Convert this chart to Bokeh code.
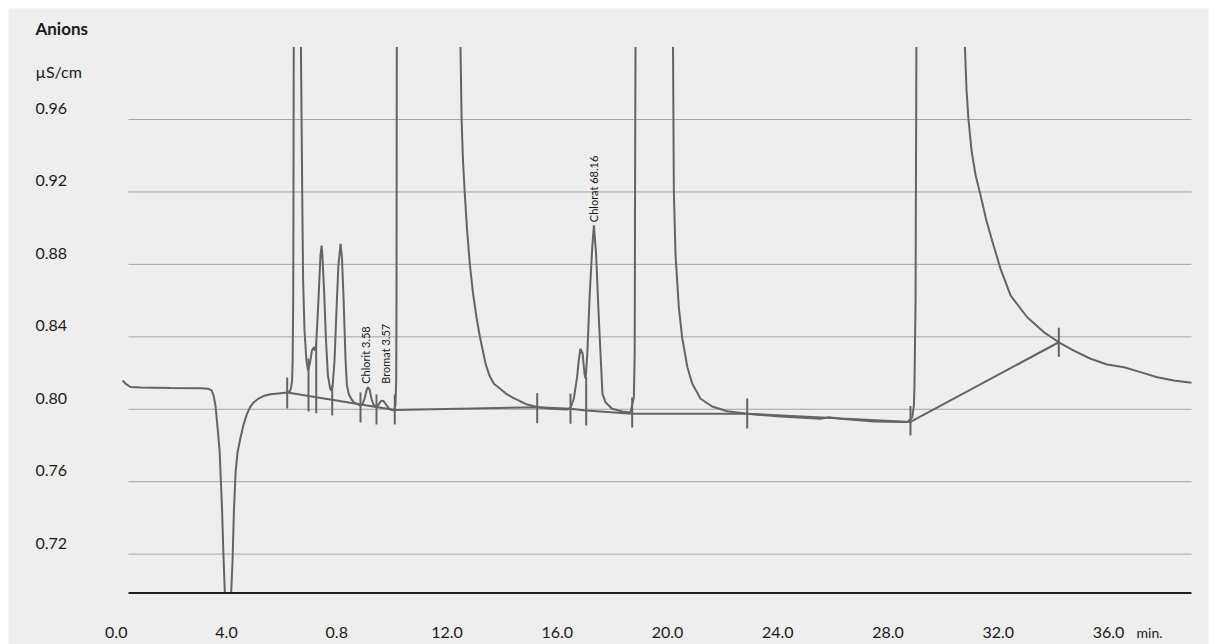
from math import pi
import numpy as np
from bokeh.plotting import figure
from bokeh.models import Label, Range1d
from bokeh.embed import file_html
from bokeh.resources import INLINE

NaN = float("nan")

# ---- chromatogram signal (time in min, conductivity in uS/cm); NaN = off-scale ----
time_min = [
    0.23, 0.37, 0.52, 0.88, 1.97, 3.06, 3.35, 3.46, 3.53, 3.60, 3.67, 3.75, 3.78, 3.84, 3.89, 3.94,
    4.05, 4.17, 4.22, 4.27, 4.33, 4.40, 4.51, 4.62, 4.75, 4.87, 4.98, 5.16, 5.34, 5.60, 5.96, 6.21,
    6.29, 6.34, 6.38, 6.40, 6.42, 6.43, 6.44, 6.58, 6.70, 6.75, 6.78, 6.83, 6.90, 6.96, 7.03, 7.10,
    7.17, 7.21, 7.25, 7.30, 7.36, 7.41, 7.45, 7.48, 7.54, 7.61, 7.68, 7.76, 7.80, 7.85, 7.92, 7.99,
    8.06, 8.14, 8.19, 8.25, 8.32, 8.37, 8.44, 8.54, 8.64, 8.84, 8.93, 9.01, 9.08, 9.13, 9.19, 9.26,
    9.33, 9.44, 9.52, 9.59, 9.65, 9.71, 9.81, 9.91, 10.07, 10.13, 10.157, 10.168, 10.179, 11.30,
    12.49, 12.53, 12.58, 12.64, 12.73, 12.83, 12.94, 13.07, 13.19, 13.40, 13.54, 13.70, 13.94,
    14.16, 14.42, 14.67, 14.91, 15.27, 15.76, 16.36, 16.48, 16.60, 16.72, 16.78, 16.84, 16.92, 16.99,
    17.03, 17.09, 17.18, 17.27, 17.33, 17.41, 17.49, 17.57, 17.64, 17.75, 17.99, 18.36, 18.66, 18.78,
    18.81, 18.83, 18.84, 19.50, 20.20, 20.23, 20.29, 20.41, 20.53, 20.72, 20.90, 21.20, 21.62,
    22.17, 22.89, 24.10, 25.55, 25.85, 26.28, 27.49, 28.70, 28.88, 28.94, 28.96, 29.00, 29.03, 29.90,
    30.79, 30.85, 30.92, 31.03, 31.18, 31.36, 31.57, 31.83, 32.08, 32.45, 33.05, 33.65, 34.20,
    34.74, 35.35, 35.95, 36.56, 37.16, 37.77, 38.37, 39.01,
]
signal_uScm = [
    0.8159, 0.8137, 0.8123, 0.8120, 0.8117, 0.8116, 0.8113, 0.8104, 0.8076, 0.8021, 0.7910, 0.7772, 0.7662, 0.7441, 0.7193, 0.6986,
    NaN, 0.6986, 0.7165, 0.7441, 0.7651, 0.7761, 0.7844, 0.7916, 0.7977, 0.8015, 0.8037, 0.8059, 0.8073, 0.8083, 0.8089, 0.8093,
    0.8098, 0.8115, 0.8159, 0.8269, 0.8601, 0.9153, 1.0000, NaN, 1.0000, 0.9153, 0.8711, 0.8435, 0.8269, 0.8214, 0.8258, 0.8324,
    0.8343, 0.8324, 0.8352, 0.8490, 0.8683, 0.8849, 0.8904, 0.8849, 0.8656, 0.8380, 0.8186, 0.8115, 0.8104, 0.8126, 0.8269, 0.8545,
    0.8794, 0.8914, 0.8833, 0.8601, 0.8269, 0.8131, 0.8082, 0.8054, 0.8037, 0.8021, 0.8026, 0.8059, 0.8104, 0.8122, 0.8109, 0.8059,
    0.8026, 0.8011, 0.8026, 0.8043, 0.8048, 0.8043, 0.8021, 0.8002, 0.7993, 0.8021, 0.8159, 0.8601, 1.0000, NaN,
    1.0000, 0.9598, 0.9374, 0.9204, 0.8987, 0.8799, 0.8645, 0.8508, 0.8403, 0.8251, 0.8186, 0.8141, 0.8112,
    0.8084, 0.8062, 0.8043, 0.8026, 0.8012, 0.8003, 0.7999, 0.8007, 0.8058, 0.8177, 0.8269, 0.8334, 0.8308, 0.8196,
    0.8168, 0.8306, 0.8638, 0.8895, 0.9015, 0.8858, 0.8564, 0.8306, 0.8085, 0.8039, 0.8003, 0.7988, 0.7982, 0.8067,
    0.8308, 0.9594, 1.0000, NaN, 1.0000, 0.9208, 0.8858, 0.8564, 0.8398, 0.8232, 0.8141, 0.8058, 0.8015,
    0.7989, 0.7975, 0.7960, 0.7947, 0.7956, 0.7947, 0.7932, 0.7929, 0.7956, 0.8021, 0.8131, 0.8601, 1.0000, NaN,
    1.0000, 0.9760, 0.9600, 0.9429, 0.9291, 0.9180, 0.9042, 0.8904, 0.8777, 0.8628, 0.8508, 0.8426, 0.8370,
    0.8324, 0.8279, 0.8247, 0.8232, 0.8205, 0.8177, 0.8159, 0.8146,
]

# ---- integration baseline ----
baseline_t = [6.202, 10.106, 15.273, 16.481, 17.050, 18.719, 22.892, 28.816, 34.197]
baseline_v = [0.8093, 0.7996, 0.8011, 0.8003, 0.7993, 0.7975, 0.7975, 0.7930, 0.8370]

# ---- integration marks (peak start / end) ----
mark_t = [6.202, 6.975, 7.254, 7.835, 8.862, 9.442, 10.106, 15.273, 16.481, 17.050, 18.719, 22.892, 28.816, 34.197]
mark_top = [0.8175, 0.8280, 0.8363, 0.8131, 0.8093, 0.8082, 0.8082, 0.8089, 0.8086, 0.8177, 0.8065, 0.8060, 0.8018, 0.8450]
mark_bot = [0.8004, 0.7988, 0.7978, 0.7966, 0.7927, 0.7916, 0.7916, 0.7923, 0.7920, 0.7910, 0.7899, 0.7894, 0.7855, 0.8290]

# ---- peak annotations ----
peak_names = ["Chlorit 3.58", "Bromat 3.57", "Chlorat 68.16"]
peak_label_t = [9.043, 9.769, 17.315]
peak_label_v = [0.8141, 0.8141, 0.9033]

# ---- axes ----
y_grid_values = [0.72, 0.76, 0.80, 0.84, 0.88, 0.92, 0.96]
y_tick_labels = ["0.72", "0.76", "0.80", "0.84", "0.88", "0.92", "0.96"]
x_tick_values = [0, 4, 8, 12, 16, 20, 24, 28, 32, 36]
x_tick_labels = ["0.0", "4.0", "0.8", "12.0", "16.0", "20.0", "24.0", "28.0", "32.0", "36.0"]
x_unit = "min."
y_unit = "µS/cm"
title = "Anions"

# plotting window (frame covers the whole grey panel)
X_START, X_END = -3.909, 39.628
Y_START, Y_END = 0.6701, 1.0213
GRID_START, GRID_END = 0.445, 39.01
AXIS_V = 0.6986
LABEL_X = -2.93
X_LABEL_V = 0.6733

BG = "#eeeeee"
LINE = "#646464"
TEXT = "#1a1a1a"
FONT = "Lato"

p = figure(width=1216, height=644,
           x_range=Range1d(X_START, X_END), y_range=Range1d(Y_START, Y_END),
           toolbar_location=None, output_backend="svg",
           x_axis_location=None, y_axis_location=None,
           min_border_left=8, min_border_right=8, min_border_top=8, min_border_bottom=0)
p.grid.visible = False
p.outline_line_color = None
p.background_fill_color = BG
p.border_fill_color = "white"

# grid lines
n = len(y_grid_values)
p.segment(x0=[GRID_START] * n, y0=y_grid_values, x1=[GRID_END] * n, y1=y_grid_values,
          line_color="#a3a3a3", line_width=1)

# baseline + marks + signal
p.line(baseline_t, baseline_v, line_color=LINE, line_width=2)
p.segment(x0=mark_t, y0=mark_bot, x1=mark_t, y1=mark_top, line_color=LINE, line_width=2)
p.line(np.array(time_min, dtype=float), np.array(signal_uScm, dtype=float), line_color=LINE, line_width=2)

# axis line
p.segment(x0=[GRID_START], y0=[AXIS_V], x1=[GRID_END], y1=[AXIS_V], line_color="#1e1e1e", line_width=2)

for v, lab in zip(y_grid_values, y_tick_labels):
    p.add_layout(Label(x=LABEL_X, y=v, text=lab, text_font=FONT, text_font_size="16px",
                       text_color=TEXT, text_align="left", text_baseline="alphabetic", y_offset=11))
p.add_layout(Label(x=LABEL_X, y=0.9825, text=y_unit, text_font=FONT, text_font_size="16px",
                   text_color=TEXT, text_align="left", text_baseline="alphabetic", y_offset=7))
p.add_layout(Label(x=LABEL_X, y=1.0064, text=title, text_font=FONT, text_font_size="17px",
                   text_font_style="bold", text_color=TEXT, text_align="left", text_baseline="alphabetic",
                   y_offset=7))

for t, lab in zip(x_tick_values, x_tick_labels):
    p.add_layout(Label(x=t, y=X_LABEL_V, text=lab, text_font=FONT, text_font_size="16px",
                       text_color=TEXT, text_align="center", text_baseline="alphabetic", y_offset=6))
p.add_layout(Label(x=37.016, y=X_LABEL_V, text=x_unit, text_font=FONT, text_font_size="14px",
                   text_color=TEXT, text_align="left", text_baseline="alphabetic", y_offset=6))

for t, v, name in zip(peak_label_t, peak_label_v, peak_names):
    p.add_layout(Label(x=t, y=v, text=name, angle=pi / 2, text_font=FONT, text_font_size="11px",
                       text_color=TEXT, text_align="left", text_baseline="middle"))

open("out.html", "w").write(file_html(p, INLINE))
